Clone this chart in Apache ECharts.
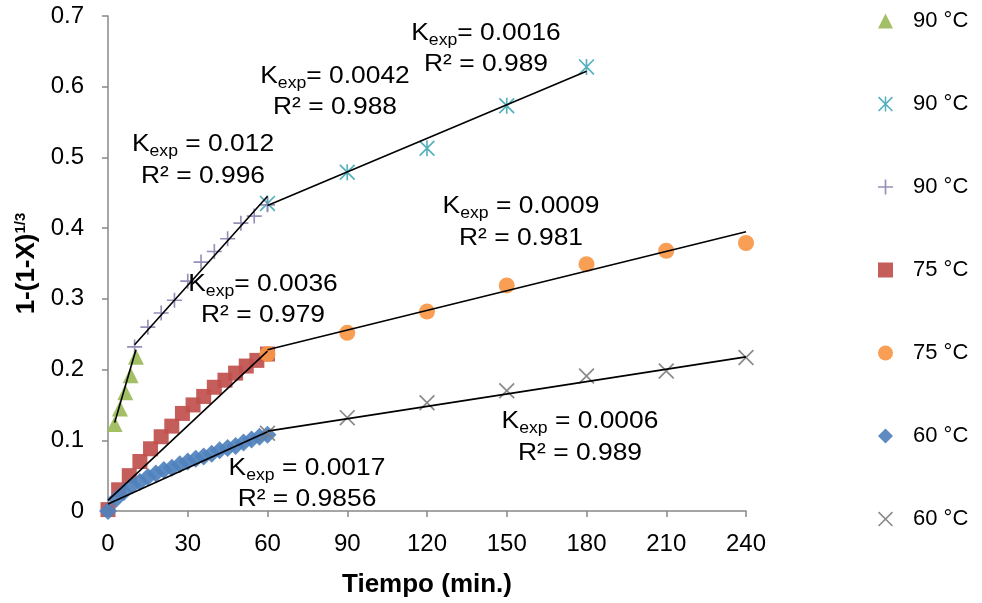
<!DOCTYPE html>
<html><head><meta charset="utf-8">
<script src="https://cdn.jsdelivr.net/npm/echarts@6/dist/echarts.min.js"></script>
<style>html,body{margin:0;padding:0;background:#fff}#c{width:982px;height:603px}</style>
</head><body><div id="c"></div>
<script>
const FONT = '"Liberation Sans", Arial, Helvetica, sans-serif';

// ---- axes ----
const xTicks = [0, 30, 60, 90, 120, 150, 180, 210, 240];
const yTicks = [0, 0.1, 0.2, 0.3, 0.4, 0.5, 0.6, 0.7];
const xTitle = 'Tiempo (min.)';

// ---- series names (legend) ----
const seriesNames = ['90 °C', '90 °C', '90 °C', '75 °C', '75 °C', '60 °C', '60 °C'];

// ---- data ----
// 90 °C, first stage (triangles)
const tTri = [2.5, 4.5, 6.5, 8.5, 10.5];
const vTri = [0.123, 0.145, 0.168, 0.192, 0.218];
// 90 °C, third stage (stars)
const tStar = [60, 90, 120, 150, 180];
const vStar = [0.435, 0.479, 0.513, 0.573, 0.628];
// 90 °C, second stage (plus)
const tPlus = [10, 15, 20, 25, 30, 35, 40, 45, 50, 55, 60];
const vPlus = [0.232, 0.26, 0.28, 0.298, 0.325, 0.352, 0.367, 0.385, 0.407, 0.417, 0.433];
// 75 °C, first stage (squares)
const tSq = [0, 4, 8, 12, 16, 20, 24, 28, 32, 36, 40, 44, 48, 52, 56, 60];
const vSq = [0.002, 0.03, 0.05, 0.07, 0.088, 0.105, 0.12, 0.138, 0.15, 0.162, 0.175, 0.185, 0.195, 0.205, 0.213, 0.222];
// 75 °C, second stage (circles)
const tCirc = [60, 90, 120, 150, 180, 210, 240];
const vCirc = [0.222, 0.252, 0.282, 0.319, 0.349, 0.368, 0.379];
// 60 °C, first stage (diamonds)
const tDia = [0, 3, 6, 9, 12, 15, 18, 21, 24, 27, 30, 33, 36, 39, 42, 45, 48, 51, 54, 57, 60];
const vDia = [0.0, 0.017, 0.027, 0.036, 0.041, 0.048, 0.053, 0.058, 0.061, 0.066, 0.07, 0.074, 0.077, 0.081, 0.086, 0.089, 0.092, 0.097, 0.101, 0.105, 0.108];
// 60 °C, second stage (x)
const tX = [60, 90, 120, 150, 180, 210, 240];
const vX = [0.11, 0.132, 0.153, 0.17, 0.191, 0.198, 0.217];

// ---- linear trendlines (start / end) ----
const trendTri = [[2.5, 0.125], [10.5, 0.228]];
const trendPlus = [[10, 0.235], [60, 0.445]];
const trendStar = [[60, 0.432], [180, 0.622]];
const trendSq = [[0, 0.015], [60, 0.226]];
const trendCirc = [[60, 0.228], [240, 0.395]];
const trendDia = [[0, 0.01], [60, 0.112]];
const trendX = [[60, 0.113], [240, 0.218]];

// ---- fit labels ----
const kSep = [' = ', '= ', '= ', '= ', ' = ', ' = ', ' = '];
const kValues = ['0.012', '0.0042', '0.0016', '0.0036', '0.0009', '0.0006', '0.0017'];
const r2Values = ['0.996', '0.988', '0.989', '0.979', '0.981', '0.989', '0.9856'];

// ---- layout (label anchor positions in px) ----
const labelPos = [[203, 144, 176], [335, 76, 107], [486, 33, 64], [263, 284, 315], [521, 206, 238], [580, 421, 453], [307, 468, 499]];

const zip = (a, b) => a.map((v, i) => [v, b[i]]);

const SYM_PLUS = 'path://M8.9,0H11.1V20H8.9Z M0,8.9H20V11.1H0Z';
const SYM_X = 'path://M1.5,0L20,18.5L18.5,20L0,1.5Z M18.5,0L20,1.5L1.5,20L0,18.5Z';
const SYM_STAR = 'path://M1.5,0L20,18.5L18.5,20L0,1.5Z M18.5,0L20,1.5L1.5,20L0,18.5Z M9,0H11V20H9Z';

const markerDefs = [
  { key: 'tri', t: tTri, v: vTri, symbol: 'triangle', size: 16, color: '#9BBB59' },
  { key: 'star', t: tStar, v: vStar, symbol: SYM_STAR, size: 16, color: '#45A9B6' },
  { key: 'plus', t: tPlus, v: vPlus, symbol: SYM_PLUS, size: 15, color: '#8B87B3' },
  { key: 'sq', t: tSq, v: vSq, symbol: 'rect', size: 15, color: '#C0504D' },
  { key: 'circ', t: tCirc, v: vCirc, symbol: 'circle', size: 16, color: '#F79646' },
  { key: 'dia', t: tDia, v: vDia, symbol: 'diamond', size: 18, color: '#4F81BD' },
  { key: 'x', t: tX, v: vX, symbol: SYM_X, size: 16, color: '#7F7F7F' }
];
const trends = [trendTri, trendStar, trendPlus, trendSq, trendCirc, trendDia, trendX];

const legendIds = markerDefs.map((m, i) => seriesNames[i] + '|' + m.key);

const series = [];
markerDefs.forEach((m, i) => {
  series.push({
    type: 'scatter', name: legendIds[i], data: zip(m.t, m.v),
    symbol: m.symbol, symbolSize: m.size,
    itemStyle: { color: m.color, opacity: 0.92 },
    z: 2 + i * 0.01, silent: true, clip: false
  });
});
trends.forEach((tr, i) => {
  series.push({
    type: 'line', name: 'trend' + i, data: tr, symbol: 'none',
    lineStyle: { color: '#000', width: 1.6 }, z: 5, silent: true
  });
});

const graphics = [];
labelPos.forEach((p, i) => {
  graphics.push({
    type: 'text', x: p[0], y: p[1], scaleX: 1.1, z: 100, silent: true,
    style: {
      text: '{k|K}{s|exp}{e|' + kSep[i] + kValues[i] + '}',
      align: 'center', verticalAlign: 'middle', fill: '#000',
      rich: {
        k: { fontSize: 24, fontFamily: FONT, lineHeight: 24 },
        s: { fontSize: 16, fontFamily: FONT, lineHeight: 31, verticalAlign: 'bottom' },
        e: { fontSize: 24, fontFamily: FONT, lineHeight: 24 }
      }
    }
  });
  graphics.push({
    type: 'text', x: p[0], y: p[2], scaleX: 1.1, z: 100, silent: true,
    style: {
      text: 'R² = ' + r2Values[i], fontSize: 24, fontFamily: FONT,
      align: 'center', verticalAlign: 'middle', fill: '#000'
    }
  });
});

const chart = echarts.init(document.getElementById('c'), null, { renderer: 'canvas' });
chart.setOption({
  backgroundColor: '#fff',
  animation: false,
  grid: { left: 108, right: 236, top: 16, bottom: 91, containLabel: false },
  xAxis: {
    type: 'value', min: xTicks[0], max: xTicks[xTicks.length - 1], interval: 30,
    name: xTitle, nameLocation: 'middle', nameGap: 61,
    nameTextStyle: { fontSize: 26, fontWeight: 'bold', fontFamily: FONT, color: '#000' },
    axisLine: { show: true, lineStyle: { color: '#888', width: 1.5 } },
    axisTick: { show: true, length: 6, lineStyle: { color: '#888', width: 1.5 } },
    axisLabel: { fontSize: 24, fontFamily: FONT, color: '#000', margin: 21,
      formatter: v => xTicks.indexOf(v) >= 0 ? String(v) : '' },
    splitLine: { show: false }
  },
  yAxis: {
    type: 'value', min: yTicks[0], max: yTicks[yTicks.length - 1], interval: 0.1,
    name: '{a|1-(1-X)}{s|1/3}', nameLocation: 'middle', nameGap: 66, nameRotate: 90,
    nameTextStyle: {
      fontSize: 26, fontWeight: 'bold', fontFamily: FONT, color: '#000',
      rich: {
        a: { fontSize: 26, fontWeight: 'bold', fontFamily: FONT, color: '#000', lineHeight: 26 },
        s: { fontSize: 15, fontFamily: FONT, color: '#000', lineHeight: 15, verticalAlign: 'top' }
      }
    },
    axisLine: { show: true, lineStyle: { color: '#888', width: 1.5 } },
    axisTick: { show: true, length: 6, lineStyle: { color: '#888', width: 1.5 } },
    axisLabel: { fontSize: 24, fontFamily: FONT, color: '#000', margin: 24, padding: [8, 0, 0, 0],
      formatter: v => { const r = Math.round(v * 10) / 10; return String(r); } },
    splitLine: { show: false }
  },
  legend: {
    orient: 'vertical', left: 873, top: 5,
    itemWidth: 15, itemHeight: 15, itemGap: 61,
    data: legendIds,
    formatter: n => n.split('|')[0],
    textStyle: { fontSize: 22, fontFamily: FONT, color: '#000', lineHeight: 22, padding: [0, 0, 0, 15] },
    selectedMode: false
  },
  graphic: graphics,
  series: series
});
</script></body></html>
